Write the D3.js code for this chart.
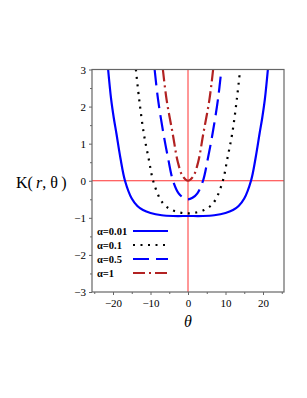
<!DOCTYPE html>
<html>
<head>
<meta charset="utf-8">
<script src="https://cdn.jsdelivr.net/npm/d3@7"></script>
<style>
body { margin: 0; background: #fff; }
svg { display: block; }
text { font-family: "Liberation Serif", "DejaVu Serif", serif; }
</style>
</head>
<body>
<svg id="chart"></svg>
<script>
var width = 307, height = 398;
var svg = d3.select("#chart").attr("width", width).attr("height", height);

// values
var theta001 = [-21.3, -20.5, -19.8, -19.1, -18, -16.8, -15, -13.5, -12, -10, -7, -4, 0, 4, 7, 10, 12, 13.5, 15, 16.8, 18, 19.1, 19.8, 20.5, 21.3];
var k001 = [3.0, 2.2, 1.7, 1.28, 0.6, 0, -0.48, -0.68, -0.79, -0.87, -0.93, -0.95, -0.95, -0.95, -0.93, -0.87, -0.79, -0.68, -0.48, 0, 0.6, 1.28, 1.7, 2.2, 3.0];

var theta01 = [-13.9, -13.0, -11.8, -10.5, -9.3, -7.4, -6, -4.3, -2, 0, 2, 4.3, 6, 7.4, 9.3, 10.5, 11.8, 13.0, 13.9];
var k01 = [3.0, 2.18, 1.28, 0.6, 0, -0.5, -0.68, -0.79, -0.86, -0.88, -0.86, -0.79, -0.68, -0.5, 0, 0.6, 1.28, 2.18, 3.0];

var theta05 = [-8.9, -8.0, -6.6, -5.3, -4.0, -2.5, -1.2, 0, 1.2, 2.5, 4.0, 5.3, 6.6, 8.0, 8.9];
var k05 = [3.0, 2.2, 1.3, 0.6, 0, -0.34, -0.46, -0.5, -0.46, -0.34, 0, 0.6, 1.3, 2.2, 3.0];

var theta1 = [-6.7, -5.7, -4.1, -2.7, -1.4, 0, 1.4, 2.7, 4.1, 5.7, 6.7];
var k1 = [3.0, 2.18, 1.28, 0.5, 0.12, 0, 0.12, 0.5, 1.28, 2.18, 3.0];

var labels = ["α=0.01", "α=0.1", "α=0.5", "α=1"];
var xTicks = [-20, -10, 0, 10, 20];
var xMinor = [-25, -15, -5, 5, 15, 25];
var yTicks = [-3, -2, -1, 0, 1, 2, 3];
var yMinor = [-2.5, -1.5, -0.5, 0.5, 1.5, 2.5];

var series = [
    {x: theta001, y: k001, color: "#0000ff", dash: null},
    {x: theta01, y: k01, color: "#000000", dash: "2 5.5"},
    {x: theta05, y: k05, color: "#0000ff", dash: "16 7"},
    {x: theta1, y: k1, color: "#b22222", dash: "12 4 2 4"}
];

var pLeft = 92, pRight = 284, pTop = 69.5, pBottom = 292;
var x = d3.scaleLinear().domain([-25.6, 25.6]).range([pLeft, pRight]);
var y = d3.scaleLinear().domain([-3, 3]).range([pBottom, pTop]);

svg.append("defs").append("clipPath").attr("id", "clip")
    .append("rect").attr("x", pLeft).attr("y", pTop).attr("width", pRight - pLeft).attr("height", pBottom - pTop);

// red reference lines
svg.append("line").attr("x1", pLeft).attr("x2", pRight).attr("y1", y(0)).attr("y2", y(0))
    .attr("stroke", "#ff3030").attr("stroke-width", 1);
svg.append("line").attr("x1", x(0)).attr("x2", x(0)).attr("y1", pTop).attr("y2", pBottom)
    .attr("stroke", "#ff3030").attr("stroke-width", 1);

var line = d3.line()
    .x(function (d) { return x(d[0]); })
    .y(function (d) { return y(d[1]); })
    .curve(d3.curveCatmullRom.alpha(0.5));

var plot = svg.append("g").attr("clip-path", "url(#clip)");
series.forEach(function (s) {
    var pts = s.x.map(function (v, i) { return [v, s.y[i]]; });
    plot.append("path")
        .attr("d", line(pts))
        .attr("fill", "none")
        .attr("stroke", s.color)
        .attr("stroke-width", 2.2)
        .attr("stroke-dasharray", s.dash);
});

// frame
var axisColor = "#666";
svg.append("rect").attr("x", pLeft).attr("y", pTop).attr("width", pRight - pLeft).attr("height", pBottom - pTop)
    .attr("fill", "none").attr("stroke", axisColor).attr("stroke-width", 1.2);

// axes
var fmt = function (d) { return d < 0 ? "\u2212" + (-d) : d; };
svg.append("g").attr("transform", "translate(0," + pBottom + ")")
    .call(d3.axisBottom(x).tickValues(xTicks).tickSize(3).tickPadding(4).tickFormat(fmt));
svg.append("g").attr("transform", "translate(0," + pBottom + ")")
    .call(d3.axisBottom(x).tickValues(xMinor).tickSize(2).tickFormat(""));

svg.append("g").attr("transform", "translate(" + pLeft + ",0)")
    .call(d3.axisLeft(y).tickValues(yTicks).tickSize(3).tickPadding(3).tickFormat(fmt));
svg.append("g").attr("transform", "translate(" + pLeft + ",0)")
    .call(d3.axisLeft(y).tickValues(yMinor).tickSize(2).tickFormat(""));

svg.selectAll(".domain").remove();
svg.selectAll(".tick line").attr("stroke", axisColor);
svg.selectAll(".tick text").attr("font-family", "Liberation Serif, serif").attr("font-size", 11).attr("fill", "#000");

// axis titles
svg.append("text").attr("x", x(0)).attr("y", 327).attr("text-anchor", "middle")
    .attr("font-size", 16).attr("font-style", "italic").text("θ");

var yl = svg.append("text").attr("x", 16).attr("y", 188).attr("font-size", 16);
yl.append("tspan").text("K(\u2009");
yl.append("tspan").attr("font-style", "italic").text("r");
yl.append("tspan").text(", θ\u2009)");

// legend
var legRows = [231, 245, 259, 273];
labels.forEach(function (l, i) {
    svg.append("text").attr("x", 97).attr("y", legRows[i] + 4)
        .attr("font-size", 10.5).attr("font-weight", "bold").text(l);
    svg.append("line").attr("x1", 133).attr("x2", 168)
        .attr("y1", legRows[i]).attr("y2", legRows[i])
        .attr("stroke", series[i].color).attr("stroke-width", 2.2)
        .attr("stroke-dasharray", series[i].dash);
});
</script>
</body>
</html>
